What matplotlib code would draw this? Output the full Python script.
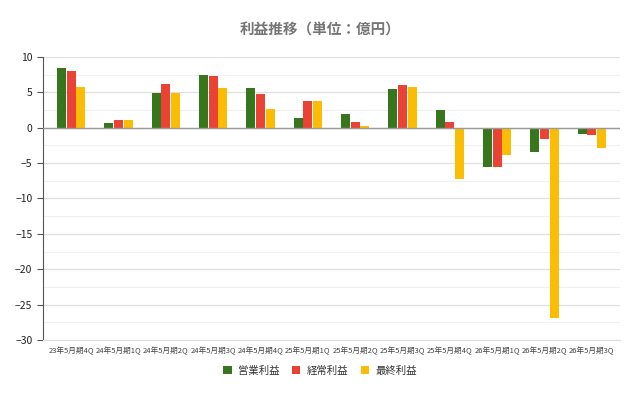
import matplotlib
matplotlib.use("Agg")
import matplotlib.pyplot as plt
import numpy as np

plt.rcParams['font.family'] = ['Noto Sans CJK JP', 'DejaVu Sans']

categories = ['23年5月期4Q', '24年5月期1Q', '24年5月期2Q', '24年5月期3Q', '24年5月期4Q',
              '25年5月期1Q', '25年5月期2Q', '25年5月期3Q', '25年5月期4Q', '26年5月期1Q',
              '26年5月期2Q', '26年5月期3Q']
operating = [8.4, 0.6, 4.9, 7.4, 5.6, 1.3, 1.9, 5.5, 2.45, -5.6, -3.5, -0.9]
ordinary = [8.0, 1.1, 6.1, 7.3, 4.8, 3.7, 0.85, 6.0, 0.85, -5.5, -1.6, -1.1]
net = [5.7, 1.1, 4.9, 5.6, 2.6, 3.7, 0.2, 5.8, -7.2, -3.8, -26.9, -2.9]
series_names = ['営業利益', '経常利益', '最終利益']
colors = ['#38761d', '#ea4335', '#fbbc04']

fig = plt.figure(figsize=(6.4, 3.95), dpi=100)
ax = fig.add_axes([0.067, 0.139, 0.902, 0.717])

x = np.arange(len(categories))
w = 0.19
for i, (vals, name, c) in enumerate(zip([operating, ordinary, net], series_names, colors)):
    ax.bar(x + (i - 1) * 0.205, vals, w, color=c, label=name, zorder=3)

ax.set_xlim(-0.6, len(categories) - 0.4)
ax.set_ylim(-30, 10)
ax.set_yticks(np.arange(-30, 11, 5))
ax.set_yticks(np.arange(-27.5, 10, 5), minor=True)
ax.grid(axis='y', which='major', color='#e0e0e0', lw=0.9, zorder=0)
ax.grid(axis='y', which='minor', color='#f0f0f0', lw=0.8, zorder=0)
ax.axhline(0, color='#999999', lw=1, zorder=4)

ax.set_xticks(x)
ax.set_xticklabels(categories, fontsize=5.5, color='#444444')
ax.tick_params(axis='x', length=0, pad=5)
ax.tick_params(axis='y', which='major', labelsize=7.5, colors='#555555', length=4, labelcolor='#222222')
ax.tick_params(axis='y', which='minor', length=0)

for s in ['top', 'right']:
    ax.spines[s].set_visible(False)
ax.spines['left'].set_color('#555555')
ax.spines['bottom'].set_color('#dddddd')

fig.suptitle('利益推移（単位：億円）', y=0.945, fontsize=10.5, fontweight='bold', color='#757575')

fig.legend(loc='center', bbox_to_anchor=(0.5, 0.062), ncol=3, frameon=False,
           fontsize=7.5, handlelength=0.8, handleheight=0.8, columnspacing=1.2,
           handletextpad=0.6, labelcolor='#333333')

plt.savefig('out.png', dpi=100)
plt.close(fig)
